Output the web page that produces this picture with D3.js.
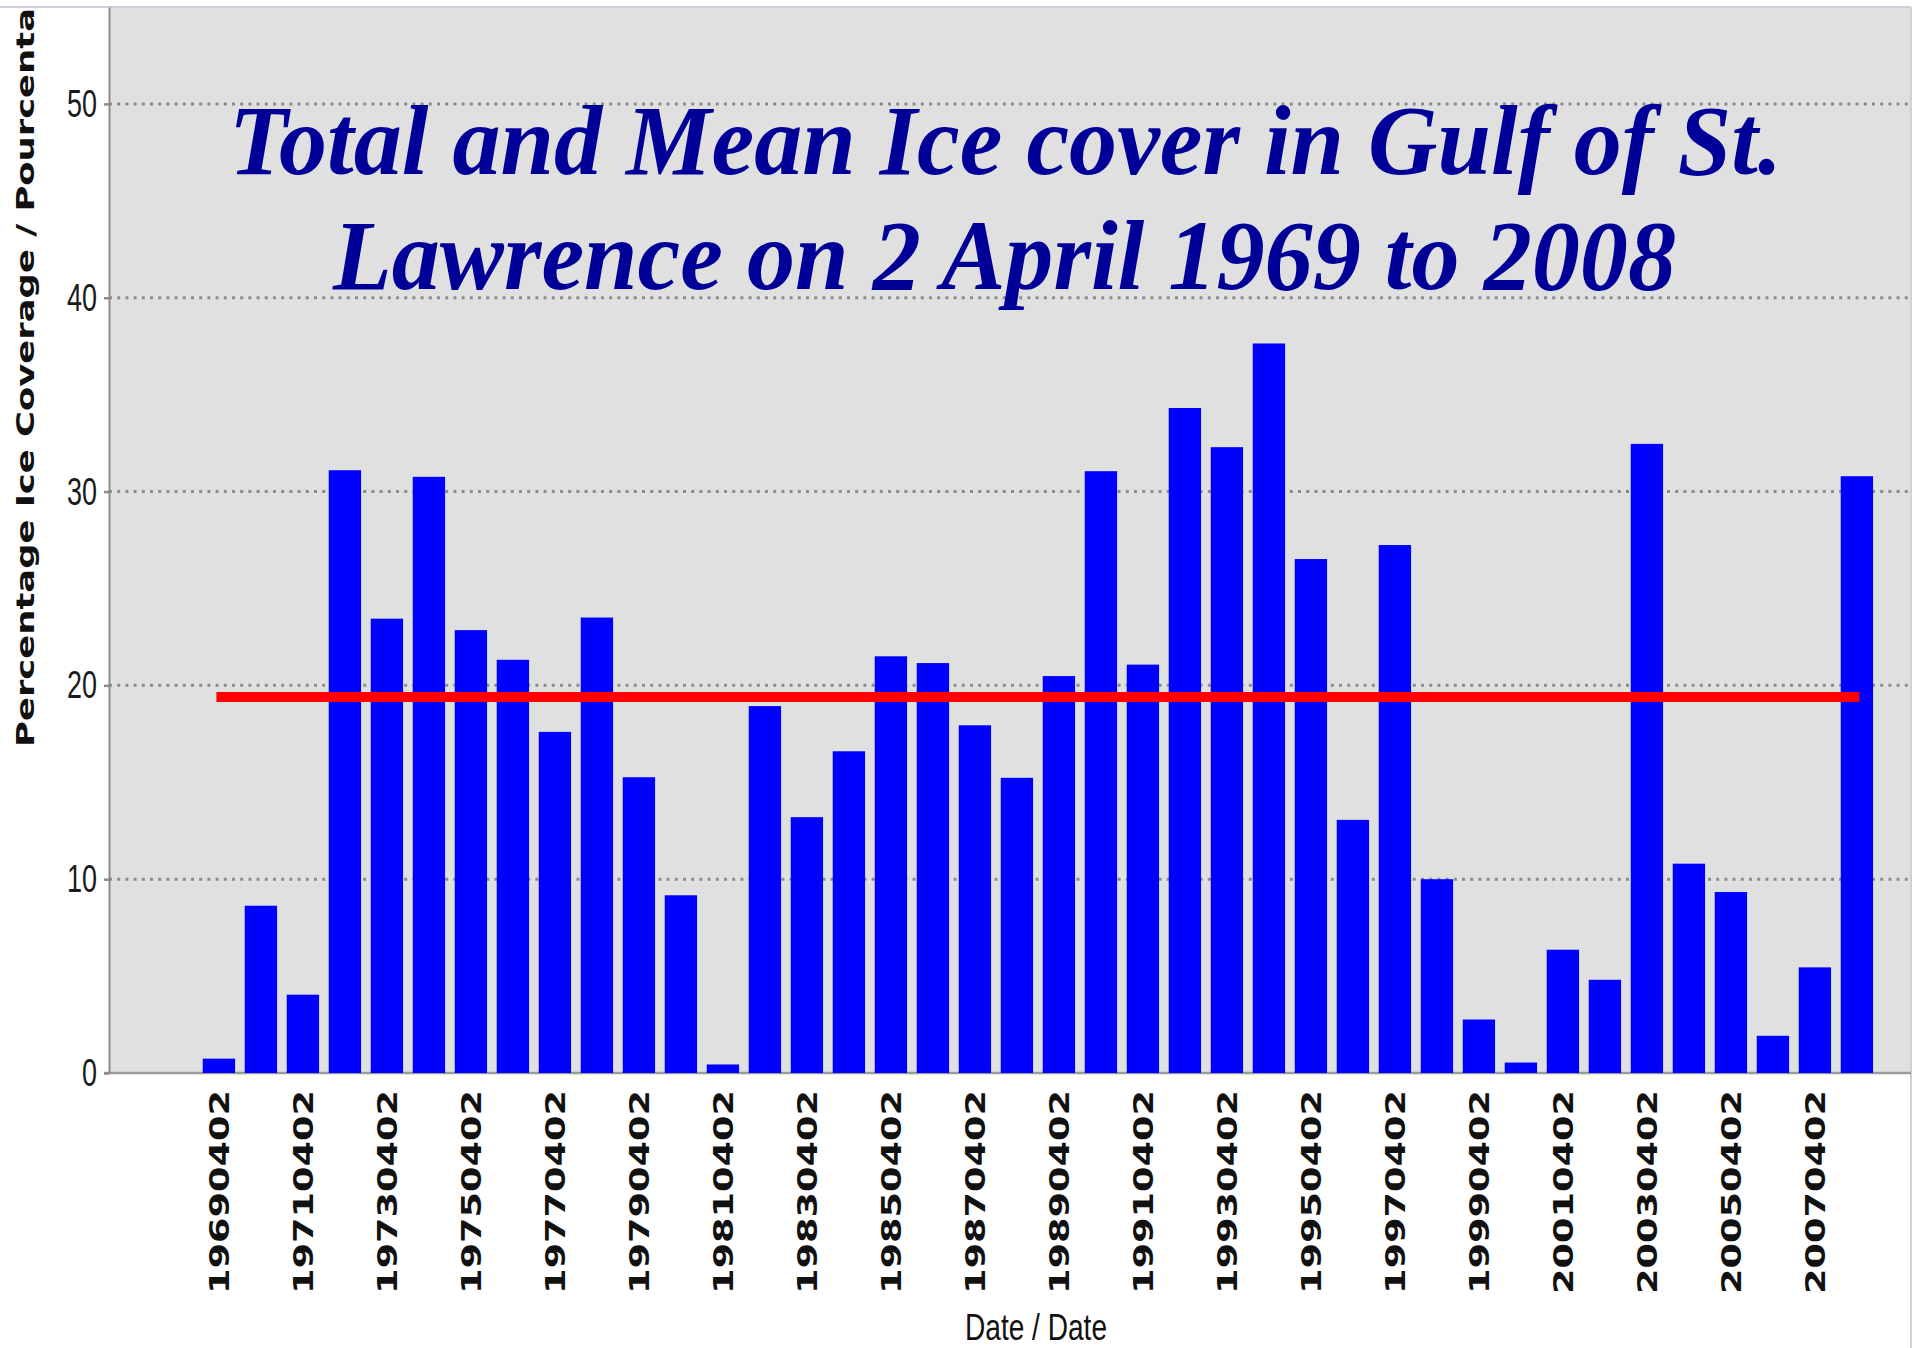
<!doctype html>
<html>
<head>
<meta charset="utf-8">
<script src="https://d3js.org/d3.v7.min.js"></script>
<style>
  body { margin: 0; background: #fff; }
  svg { display: block; }
</style>
</head>
<body>
<svg width="1914" height="1348"></svg>
<script>
// dates of the 2 April observation, one per year
var dates = ["19690402","19700402","19710402","19720402","19730402","19740402","19750402","19760402","19770402","19780402",
             "19790402","19800402","19810402","19820402","19830402","19840402","19850402","19860402","19870402","19880402",
             "19890402","19900402","19910402","19920402","19930402","19940402","19950402","19960402","19970402","19980402",
             "19990402","20000402","20010402","20020402","20030402","20040402","20050402","20060402","20070402","20080402"];
// percentage ice coverage
var coverage = [0.74, 8.63, 4.04, 31.1, 23.44, 30.76, 22.85, 21.32, 17.6, 23.5,
                15.26, 9.17, 0.44, 18.93, 13.2, 16.6, 21.5, 21.15, 17.94, 15.23,
                20.48, 31.05, 21.07, 34.31, 32.29, 37.64, 26.52, 13.06, 27.24, 10.0,
                2.76, 0.54, 6.36, 4.81, 32.46, 10.8, 9.34, 1.92, 5.45, 30.79];
var meanCover = 19.4;
var labelDates = ["19690402","19710402","19730402","19750402","19770402","19790402","19810402","19830402","19850402","19870402",
                  "19890402","19910402","19930402","19950402","19970402","19990402","20010402","20030402","20050402","20070402"];
var yTicks = [0, 10, 20, 30, 40, 50];
var gridTicks = [10, 20, 30, 40, 50];

var svg = d3.select("svg");
var plotLeft = 109, plotRight = 1911, plotTop = 7, plotBottom = 1073;

var x = d3.scaleBand().domain(dates).range([197.9, 1877.9]).paddingInner(0.23).paddingOuter(0.115);
var y = d3.scaleLinear().domain([0, 55]).range([plotBottom, plotTop]);

// plot background
svg.append("rect")
    .attr("x", plotLeft).attr("y", plotTop)
    .attr("width", plotRight - plotLeft).attr("height", plotBottom - plotTop)
    .attr("fill", "#e0e0e0");

// outer frame (top and right edges)
svg.append("line").attr("x1", 0).attr("x2", plotRight).attr("y1", plotTop).attr("y2", plotTop)
    .attr("stroke", "#cfcfdc").attr("stroke-width", 2);
svg.append("line").attr("x1", plotRight).attr("x2", plotRight).attr("y1", plotTop).attr("y2", 1348)
    .attr("stroke", "#cfcfdc").attr("stroke-width", 2);

// dotted gridlines
svg.append("g").selectAll("line")
    .data(gridTicks)
    .enter()
    .append("line")
        .attr("x1", plotLeft).attr("x2", plotRight)
        .attr("y1", function(d){ return y(d); }).attr("y2", function(d){ return y(d); })
        .attr("stroke", "#8c8c8c").attr("stroke-width", 3)
        .attr("stroke-dasharray", "3 5.2");

// zero line
svg.append("line")
    .attr("x1", 104).attr("x2", plotRight)
    .attr("y1", y(0)).attr("y2", y(0))
    .attr("stroke", "#9a9a9a").attr("stroke-width", 2.5);

// bars
svg.append("g").selectAll("rect")
    .data(coverage)
    .enter()
    .append("rect")
        .attr("x", function(d, i){ return x(dates[i]); })
        .attr("y", function(d){ return y(d); })
        .attr("width", x.bandwidth())
        .attr("height", function(d){ return y(0) - y(d); })
        .attr("fill", "#0000ff");

// mean line
svg.append("line")
    .attr("x1", x(dates[0]) + x.bandwidth() / 2 - 2.5)
    .attr("x2", x(dates[dates.length - 1]) + x.bandwidth() / 2 + 2.5)
    .attr("y1", y(meanCover)).attr("y2", y(meanCover))
    .attr("stroke", "#ff0000").attr("stroke-width", 10);

// y axis
var yAxis = svg.append("g")
    .attr("transform", "translate(" + plotLeft + ",0)")
    .call(d3.axisLeft(y).tickValues(yTicks).tickSize(5).tickSizeOuter(0).tickPadding(7));
yAxis.select(".domain").attr("stroke", "#8a8a8a").attr("stroke-width", 2);
yAxis.selectAll(".tick line").attr("stroke", "#8a8a8a").attr("stroke-width", 2.5);
yAxis.selectAll(".tick text")
    .attr("font-family", "Liberation Sans, Arial, sans-serif")
    .attr("font-size", 38)
    .attr("fill", "#1a1a1a")
    .attr("dy", "0.33em")
    .attr("textLength", function(d){ return String(d).length * 15; })
    .attr("lengthAdjust", "spacingAndGlyphs");

// x axis labels
var xAxis = svg.append("g")
    .attr("transform", "translate(0," + plotBottom + ")")
    .call(d3.axisBottom(x).tickValues(labelDates).tickSize(0));
xAxis.select(".domain").remove();
xAxis.selectAll(".tick text")
    .attr("font-family", "DejaVu Sans, sans-serif")
    .attr("font-weight", "bold")
    .attr("font-size", 27)
    .attr("fill", "#111")
    .attr("text-anchor", "start")
    .attr("x", 0).attr("y", 0).attr("dy", null)
    .attr("transform", "translate(10,221) rotate(-90)")
    .attr("textLength", 204)
    .attr("lengthAdjust", "spacingAndGlyphs");

// axis titles
svg.append("text")
    .attr("transform", "translate(34,747) rotate(-90)")
    .attr("font-family", "DejaVu Sans, sans-serif")
    .attr("font-weight", "bold")
    .attr("font-size", 25)
    .attr("fill", "#111")
    .attr("textLength", 739)
    .attr("lengthAdjust", "spacingAndGlyphs")
    .text("Percentage Ice Coverage / Pourcenta");

svg.append("text")
    .attr("x", 965).attr("y", 1340)
    .attr("font-family", "Liberation Sans, Arial, sans-serif")
    .attr("font-size", 37)
    .attr("fill", "#111")
    .attr("textLength", 142)
    .attr("lengthAdjust", "spacingAndGlyphs")
    .text("Date / Date");

// title
var title = svg.append("g")
    .attr("font-family", "Liberation Serif, Times New Roman, serif")
    .attr("font-style", "italic")
    .attr("font-weight", "bold")
    .attr("font-size", 100)
    .attr("fill", "#000099");
title.append("text")
    .attr("x", 229).attr("y", 174)
    .attr("textLength", 1553)
    .attr("lengthAdjust", "spacingAndGlyphs")
    .text("Total and Mean Ice cover in Gulf of St.");
title.append("text")
    .attr("x", 333).attr("y", 289)
    .attr("textLength", 1343)
    .attr("lengthAdjust", "spacingAndGlyphs")
    .text("Lawrence on 2 April 1969 to 2008");
</script>
</body>
</html>
